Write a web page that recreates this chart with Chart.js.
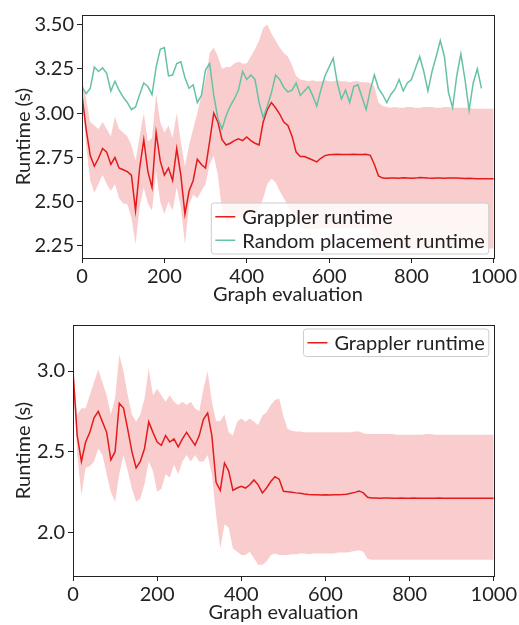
<!DOCTYPE html>
<html>
<head>
<meta charset="utf-8">
<script src="https://cdn.jsdelivr.net/npm/chart.js@4.4.1/dist/chart.umd.min.js"></script>
<style>
  html, body { margin: 0; padding: 0; background: #ffffff; }
  #wrapTop { position: absolute; left: 0; top: 0; width: 519px; height: 310px; }
  #wrapBot { position: absolute; left: 0; top: 310px; width: 519px; height: 315px; }
</style>
</head>
<body>
<div id="wrapTop"><canvas id="cTop" width="519" height="310"></canvas></div>
<div id="wrapBot"><canvas id="cBot" width="519" height="315"></canvas></div>
<script>
// ---------------- data ----------------
const evals = [
  0, 10, 20, 30, 40, 50, 60, 70, 80, 90,
  100, 110, 120, 130, 140, 150, 160, 170, 180, 190,
  200, 210, 220, 230, 240, 250, 260, 270, 280, 290,
  300, 310, 320, 330, 340, 350, 360, 370, 380, 390,
  400, 410, 420, 430, 440, 450, 460, 470, 480, 490,
  500, 510, 520, 530, 540, 550, 560, 570, 580, 590,
  600, 610, 620, 630, 640, 650, 660, 670, 680, 690,
  700, 710, 720, 730, 740, 750, 760, 770, 780, 790,
  800, 810, 820, 830, 840, 850, 860, 870, 880, 890,
  900, 910, 920, 930, 940, 950, 960, 970, 980, 990,
  1000
];

// Top panel: Grappler runtime (mean, band high, band low) and random placement
const topGrappler = [
  3.10, 2.91, 2.76, 2.70, 2.745, 2.80, 2.78, 2.71, 2.75, 2.69,
  2.68, 2.67, 2.65, 2.45, 2.69, 2.85, 2.67, 2.58, 2.89, 2.73,
  2.65, 2.69, 2.62, 2.80, 2.65, 2.43, 2.56, 2.62, 2.74, 2.71,
  2.69, 2.84, 3.00, 2.95, 2.85, 2.82, 2.83, 2.845, 2.855, 2.845,
  2.865, 2.845, 2.83, 2.82, 2.95, 3.02, 3.06, 3.03, 2.995, 2.95,
  2.93, 2.87, 2.78, 2.755, 2.755, 2.745, 2.735, 2.725, 2.745, 2.76,
  2.765, 2.767, 2.768, 2.767, 2.766, 2.767, 2.768, 2.767, 2.766, 2.768,
  2.762, 2.71, 2.645, 2.633, 2.632, 2.634, 2.633, 2.632, 2.635, 2.634,
  2.632, 2.633, 2.636, 2.635, 2.633, 2.632, 2.634, 2.633, 2.632, 2.633,
  2.634, 2.633, 2.632, 2.631, 2.632, 2.631, 2.630, 2.630, 2.629, 2.630,
  2.629
];
const topGrapplerHigh = [
  3.19, 3.08, 2.95, 2.93, 2.91, 2.95, 2.91, 2.87, 2.98, 2.91,
  2.89, 2.87, 2.82, 2.73, 2.87, 3.00, 2.84, 2.86, 3.11, 2.95,
  2.89, 2.93, 2.86, 3.00, 2.84, 2.70, 2.82, 2.91, 3.00, 3.10,
  3.19, 3.34, 3.37, 3.32, 3.25, 3.26, 3.26, 3.28, 3.29, 3.28,
  3.28, 3.32, 3.36, 3.41, 3.48, 3.50, 3.45, 3.41, 3.37, 3.34,
  3.32, 3.27, 3.21, 3.19, 3.185, 3.18, 3.185, 3.18, 3.18, 3.185,
  3.18, 3.18, 3.185, 3.18, 3.18, 3.175, 3.18, 3.18, 3.175, 3.175,
  3.17, 3.15, 3.06, 3.04, 3.035, 3.03, 3.035, 3.03, 3.03, 3.035,
  3.035, 3.03, 3.03, 3.035, 3.035, 3.035, 3.03, 3.03, 3.035, 3.035,
  3.03, 3.03, 3.03, 3.03, 3.03, 3.025, 3.025, 3.025, 3.025, 3.025,
  3.025
];
const topGrapplerLow = [
  3.11, 2.82, 2.62, 2.55, 2.60, 2.65, 2.60, 2.56, 2.60, 2.52,
  2.49, 2.485, 2.41, 2.26, 2.47, 2.58, 2.49, 2.45, 2.67, 2.50,
  2.43, 2.50, 2.45, 2.58, 2.47, 2.26, 2.48, 2.54, 2.52, 2.56,
  2.60, 2.71, 2.76, 2.65, 2.45, 2.38, 2.40, 2.41, 2.42, 2.41,
  2.43, 2.42, 2.40, 2.46, 2.52, 2.60, 2.63, 2.61, 2.56, 2.52,
  2.48, 2.43, 2.38, 2.35, 2.35, 2.345, 2.35, 2.345, 2.35, 2.35,
  2.35, 2.355, 2.35, 2.35, 2.355, 2.35, 2.355, 2.35, 2.35, 2.355,
  2.35, 2.30, 2.24, 2.235, 2.23, 2.235, 2.235, 2.23, 2.235, 2.235,
  2.23, 2.235, 2.235, 2.23, 2.235, 2.235, 2.23, 2.235, 2.235, 2.235,
  2.235, 2.235, 2.235, 2.235, 2.235, 2.235, 2.235, 2.235, 2.235, 2.235,
  2.235
];
const topRandom = [
  3.15, 3.11, 3.14, 3.26, 3.235, 3.255, 3.225, 3.125, 3.18, 3.13,
  3.09, 3.06, 3.02, 3.035, 3.105, 3.17, 3.15, 3.105, 3.26, 3.36,
  3.37, 3.21, 3.215, 3.28, 3.29, 3.20, 3.14, 3.16, 3.06, 3.10,
  3.245, 3.28, 3.10, 2.97, 2.91, 2.985, 3.04, 3.08, 3.13, 3.235,
  3.19, 3.215, 3.19, 3.06, 2.975, 3.04, 3.115, 3.215, 3.19, 3.145,
  3.12, 3.13, 3.17, 3.10, 3.125, 3.15, 3.10, 3.04, 3.13, 3.21,
  3.26, 3.31, 3.17, 3.08, 3.13, 3.06, 3.15, 3.16, 3.09, 3.02,
  3.13, 3.215, 3.14, 3.105, 3.06, 3.105, 3.135, 3.19, 3.125, 3.17,
  3.19, 3.255, 3.32, 3.235, 3.125, 3.235, 3.32, 3.41, 3.32, 3.115,
  3.03, 3.21, 3.335, 3.19, 3.015, 3.17, 3.25, 3.14, null, null,
  null
];

// Bottom panel: Grappler runtime (mean, band high, band low)
const botGrappler = [
  3.00, 2.60, 2.44, 2.56, 2.62, 2.71, 2.75, 2.685, 2.62, 2.45,
  2.50, 2.80, 2.77, 2.64, 2.50, 2.40, 2.44, 2.52, 2.685, 2.62,
  2.56, 2.54, 2.60, 2.56, 2.58, 2.53, 2.58, 2.62, 2.58, 2.54,
  2.60, 2.70, 2.74, 2.60, 2.31, 2.26, 2.43, 2.38, 2.26, 2.275,
  2.285, 2.275, 2.295, 2.325, 2.295, 2.245, 2.275, 2.315, 2.345, 2.33,
  2.255, 2.252, 2.249, 2.245, 2.242, 2.238, 2.235, 2.234, 2.233, 2.232,
  2.233, 2.232, 2.233, 2.234, 2.235, 2.237, 2.242, 2.248, 2.257, 2.245,
  2.218, 2.213, 2.213, 2.212, 2.213, 2.213, 2.212, 2.212, 2.213, 2.212,
  2.212, 2.213, 2.212, 2.212, 2.211, 2.212, 2.212, 2.213, 2.212, 2.212,
  2.212, 2.211, 2.212, 2.212, 2.212, 2.211, 2.211, 2.212, 2.212, 2.212,
  2.212
];
const botGrapplerHigh = [
  3.02, 2.73, 2.77, 2.77, 2.85, 2.93, 3.01, 2.93, 2.85, 2.73,
  2.83, 3.10, 3.00, 2.85, 2.73, 2.685, 2.73, 2.83, 3.015, 2.85,
  2.89, 2.85, 2.81, 2.85, 2.81, 2.79, 2.81, 2.79, 2.81, 2.77,
  2.75, 2.89, 3.00, 2.81, 2.69, 2.69, 2.73, 2.62, 2.60, 2.685,
  2.705, 2.685, 2.705, 2.685, 2.665, 2.725, 2.745, 2.79, 2.82, 2.83,
  2.72, 2.64, 2.63, 2.625, 2.625, 2.62, 2.62, 2.62, 2.62, 2.62,
  2.62, 2.62, 2.62, 2.62, 2.62, 2.62, 2.62, 2.625, 2.625, 2.615,
  2.61, 2.61, 2.61, 2.61, 2.61, 2.61, 2.61, 2.605, 2.605, 2.605,
  2.605, 2.605, 2.605, 2.605, 2.61, 2.61, 2.605, 2.605, 2.605, 2.605,
  2.605, 2.605, 2.605, 2.605, 2.605, 2.605, 2.605, 2.605, 2.605, 2.605,
  2.605
];
const botGrapplerLow = [
  2.98, 2.48, 2.23, 2.40, 2.41, 2.44, 2.52, 2.48, 2.36, 2.25,
  2.19, 2.36, 2.48, 2.38, 2.27, 2.19, 2.21, 2.30, 2.44, 2.38,
  2.25, 2.27, 2.36, 2.34, 2.42, 2.36, 2.44, 2.48, 2.44, 2.48,
  2.44, 2.44, 2.48, 2.36, 2.11, 1.90, 2.05, 2.03, 1.90, 1.88,
  1.86, 1.86, 1.88, 1.84, 1.80, 1.80, 1.82, 1.86, 1.87, 1.86,
  1.86, 1.86, 1.865, 1.865, 1.87, 1.87, 1.865, 1.87, 1.87, 1.87,
  1.87, 1.87, 1.87, 1.875, 1.875, 1.875, 1.88, 1.885, 1.89, 1.88,
  1.835, 1.83, 1.83, 1.83, 1.83, 1.83, 1.83, 1.83, 1.83, 1.83,
  1.83, 1.83, 1.83, 1.83, 1.83, 1.83, 1.83, 1.83, 1.83, 1.83,
  1.83, 1.83, 1.83, 1.83, 1.83, 1.83, 1.83, 1.83, 1.83, 1.83,
  1.83
];

const xTicks = [0, 200, 400, 600, 800, 1000];
const topYTicks = [2.25, 2.50, 2.75, 3.00, 3.25, 3.50];
const botYTicks = [2.0, 2.5, 3.0];

const labelGrappler = 'Grappler runtime';
const labelRandom = 'Random placement runtime';
const xTitle = 'Graph evaluation';
const yTitle = 'Runtime (s)';

// ---------------- styling ----------------
const RED = '#e41a1c';
const GREEN = '#66c2a5';
const BAND = 'rgba(228,26,28,0.22)';
const INK = '#222222';
const FONT = 'Lato';
const FS = 20;

function pts(ys) { return evals.map((x, i) => ({x: x, y: ys[i]})); }

const framePlugin = {
  id: 'frame',
  afterDraw(chart) {
    const {ctx, chartArea: a} = chart;
    ctx.save();
    ctx.strokeStyle = INK;
    ctx.lineWidth = 1;
    ctx.strokeRect(Math.round(a.left) + 0.5, Math.round(a.top) + 0.5,
                   Math.round(a.right - a.left), Math.round(a.bottom - a.top));
    ctx.restore();
  }
};

const boxLegend = {
  id: 'boxLegend',
  afterDatasetsDraw(chart, args, opts) {
    if (!opts || !opts.items) return;
    const ctx = chart.ctx, a = chart.chartArea;
    ctx.save();
    ctx.font = FS + 'px ' + FONT;
    const tw = Math.max(...opts.items.map(it => ctx.measureText(it.label).width));
    const rowH = 23.5;
    const w = 31 + tw + 4;
    const h = opts.items.length * rowH + 4;
    const x = a.right - 5 - w;
    const y = opts.corner === 'lower' ? a.bottom - 4 - h : a.top + 4;
    const r = 3;
    ctx.beginPath();
    ctx.moveTo(x + r, y);
    ctx.lineTo(x + w - r, y); ctx.arcTo(x + w, y, x + w, y + r, r);
    ctx.lineTo(x + w, y + h - r); ctx.arcTo(x + w, y + h, x + w - r, y + h, r);
    ctx.lineTo(x + r, y + h); ctx.arcTo(x, y + h, x, y + h - r, r);
    ctx.lineTo(x, y + r); ctx.arcTo(x, y, x + r, y, r);
    ctx.closePath();
    ctx.fillStyle = 'rgba(255,255,255,0.8)';
    ctx.fill();
    ctx.strokeStyle = '#cccccc';
    ctx.lineWidth = 1;
    ctx.stroke();
    opts.items.forEach((it, i) => {
      const cy = y + 2 + rowH * (i + 0.5);
      ctx.strokeStyle = it.color;
      ctx.lineWidth = 1.5;
      ctx.beginPath();
      ctx.moveTo(x + 4, cy);
      ctx.lineTo(x + 24, cy);
      ctx.stroke();
      ctx.fillStyle = INK;
      ctx.textBaseline = 'middle';
      ctx.textAlign = 'left';
      ctx.fillText(it.label, x + 31, cy + 1);
    });
    ctx.restore();
  }
};

function makeOptions(cfg) {
  return {
    responsive: false,
    animation: false,
    devicePixelRatio: 1,
    layout: { padding: cfg.padding },
    plugins: {
      legend: { display: false },
      tooltip: { enabled: false },
      boxLegend: { items: cfg.legendItems, corner: cfg.corner }
    },
    elements: { point: { radius: 0 }, line: { tension: 0 } },
    scales: {
      x: {
        type: 'linear',
        min: 0, max: 1000,
        afterFit(s) { s.height = cfg.xHeight; },
        afterBuildTicks(s) { s.ticks = xTicks.map(v => ({value: v})); },
        ticks: { color: INK, font: {family: FONT, size: FS}, padding: cfg.xTickPad, maxRotation: 0,
                 callback: v => String(v) },
        grid: { drawOnChartArea: false, drawTicks: true, tickLength: 5, color: INK },
        border: { display: true, color: INK },
        title: { display: true, text: xTitle, color: INK, font: {family: FONT, size: FS, lineHeight: 1},
                 padding: {top: 0, bottom: cfg.xTitlePad} }
      },
      y: {
        type: 'linear',
        min: cfg.yMin, max: cfg.yMax,
        afterFit(s) { s.width = cfg.yWidth; },
        afterBuildTicks(s) { s.ticks = cfg.yTicks.map(v => ({value: v})); },
        ticks: { color: INK, font: {family: FONT, size: FS}, padding: 3,
                 callback: v => v.toFixed(cfg.yDec) },
        grid: { drawOnChartArea: false, drawTicks: true, tickLength: 5, color: INK },
        border: { display: true, color: INK },
        title: { display: true, text: yTitle, color: INK, font: {family: FONT, size: FS},
                 padding: {top: 12, bottom: 0} }
      }
    }
  };
}

new Chart(document.getElementById('cTop'), {
  type: 'line',
  data: {
    datasets: [
      { label: labelRandom, data: pts(topRandom), borderColor: GREEN, borderWidth: 1.5, fill: false, spanGaps: false },
      { label: labelGrappler, data: pts(topGrappler), borderColor: RED, borderWidth: 1.5, fill: false },
      { label: 'band-high', data: pts(topGrapplerHigh), borderWidth: 0, borderColor: 'rgba(0,0,0,0)', backgroundColor: BAND, fill: 3 },
      { label: 'band-low', data: pts(topGrapplerLow), borderWidth: 0, borderColor: 'rgba(0,0,0,0)', fill: false }
    ]
  },
  options: makeOptions({
    padding: {top: 11, right: 21, left: 0, bottom: 0},
    xHeight: 52, yWidth: 82, xTickPad: 2, xTitlePad: 5,
    yMin: 2.182, yMax: 3.554, yTicks: topYTicks, yDec: 2,
    legendItems: [{label: labelGrappler, color: RED}, {label: labelRandom, color: GREEN}],
    corner: 'lower'
  }),
  plugins: [framePlugin, boxLegend]
});

new Chart(document.getElementById('cBot'), {
  type: 'line',
  data: {
    datasets: [
      { label: labelGrappler, data: pts(botGrappler), borderColor: RED, borderWidth: 1.5, fill: false },
      { label: 'band-high', data: pts(botGrapplerHigh), borderWidth: 0, borderColor: 'rgba(0,0,0,0)', backgroundColor: BAND, fill: 2 },
      { label: 'band-low', data: pts(botGrapplerLow), borderWidth: 0, borderColor: 'rgba(0,0,0,0)', fill: false }
    ]
  },
  options: makeOptions({
    padding: {top: 15, right: 23, left: 0, bottom: 0},
    xHeight: 49, yWidth: 73, xTickPad: 2, xTitlePad: 2,
    yMin: 1.73, yMax: 3.285, yTicks: botYTicks, yDec: 1,
    legendItems: [{label: labelGrappler, color: RED}],
    corner: 'upper'
  }),
  plugins: [framePlugin, boxLegend]
});
</script>
</body>
</html>
